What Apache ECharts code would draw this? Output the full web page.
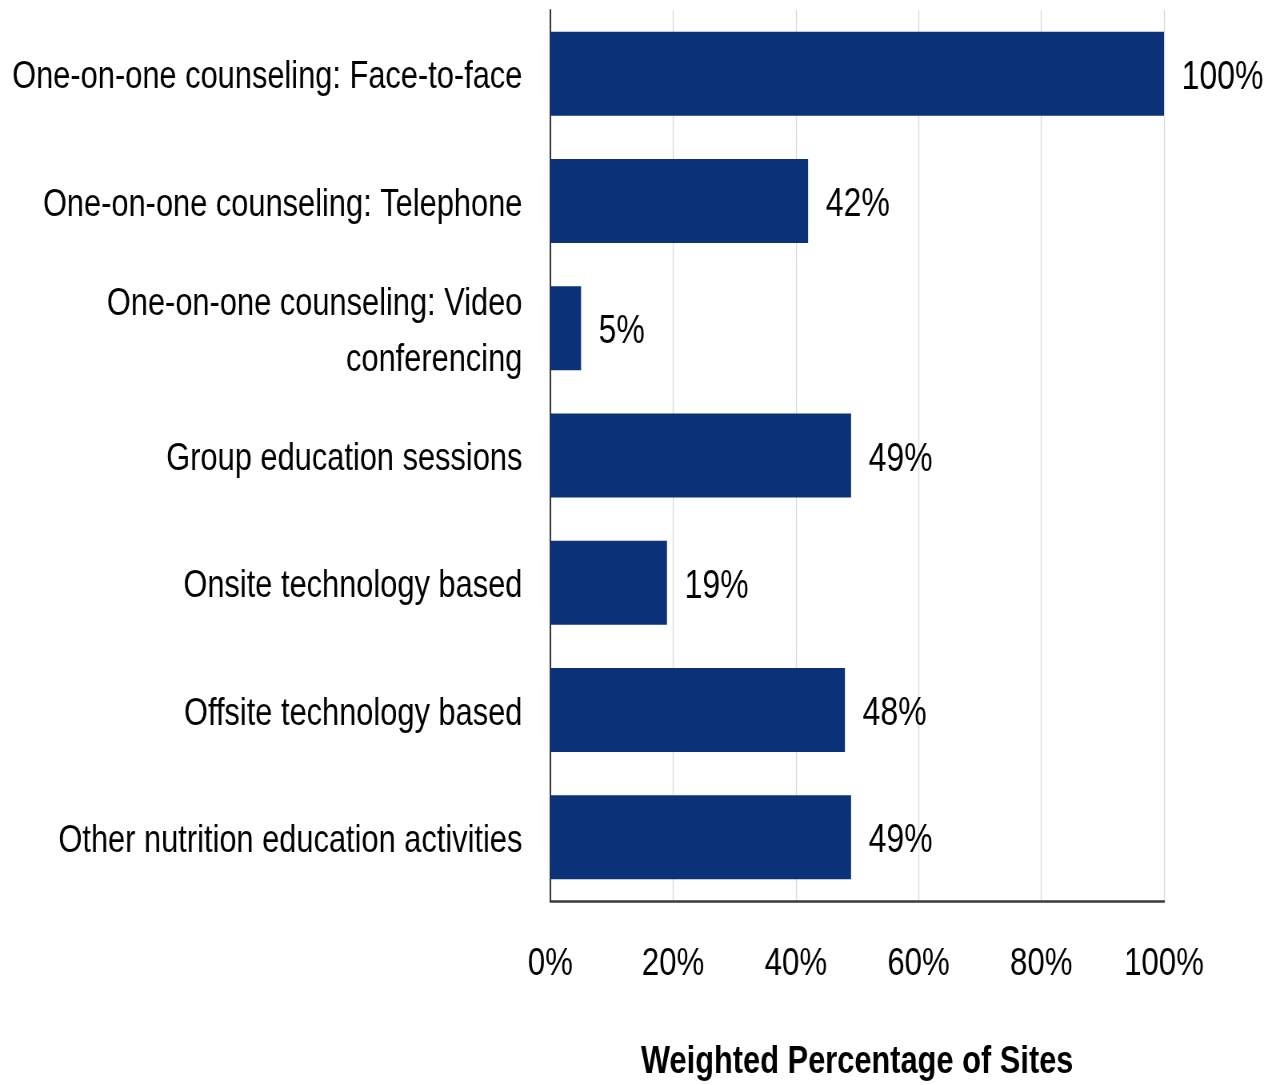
<!DOCTYPE html>
<html>
<head>
<meta charset="utf-8">
<script src="https://cdn.jsdelivr.net/npm/echarts@6/dist/echarts.min.js"></script>
<style>
  html, body { margin: 0; padding: 0; background: #fff; overflow: hidden; }
  #frame { width: 1277px; height: 1085px; overflow: hidden; }
  /* chart is laid out wide and squeezed horizontally to get the condensed lettering */
  #chart { width: 1596px; height: 1085px; transform: scaleX(0.8); transform-origin: 0 0; }
</style>
</head>
<body>
<div id="frame"><div id="chart"></div></div>
<script>
// Nutrition education delivery methods, share of sites (weighted)
const categories = [
  'One-on-one counseling: Face-to-face',
  'One-on-one counseling: Telephone',
  'One-on-one counseling: Video\nconferencing',
  'Group education sessions',
  'Onsite technology based',
  'Offsite technology based',
  'Other nutrition education activities'
];
const percentages = [100, 42, 5, 49, 19, 48, 49];
const axisTicks = [0, 20, 40, 60, 80, 100];
const axisTitle = 'Weighted Percentage of Sites';

const FONT = '"Liberation Sans", Arial, Helvetica, sans-serif';
const chart = echarts.init(document.getElementById('chart'), null, { renderer: 'canvas' });

// category names sit a little below the band centre: a thin spacer line goes on top
const categoryLabel = name =>
  '{gap| }\n' + name.split('\n').map(line => '{name|' + line + '}').join('\n');

chart.setOption({
  animation: false,
  backgroundColor: '#ffffff',
  grid: { left: 688, right: 141, top: 10, bottom: 184, containLabel: false, outerBoundsMode: 'none' },
  xAxis: {
    type: 'value',
    min: axisTicks[0],
    max: axisTicks[axisTicks.length - 1],
    interval: axisTicks[1] - axisTicks[0],
    name: axisTitle,
    nameLocation: 'middle',
    nameGap: 142,
    nameTextStyle: { fontFamily: FONT, fontSize: 38.5, fontWeight: 'bold', color: '#000' },
    axisLine: { show: true, lineStyle: { color: '#3a3a3a', width: 2.5 } },
    axisTick: { show: false },
    axisLabel: {
      margin: 44,
      fontFamily: FONT, fontSize: 39, color: '#000',
      formatter: v => v + '%'
    },
    splitLine: { show: true, lineStyle: { color: '#d9d9d9', width: 1.25 } }
  },
  yAxis: {
    type: 'category',
    inverse: true,
    data: categories,
    axisLine: { show: true, lineStyle: { color: '#222', width: 1.8 } },
    axisTick: { show: false },
    axisLabel: {
      margin: 35,
      align: 'right',
      formatter: categoryLabel,
      rich: {
        gap: { fontSize: 2, lineHeight: 8, height: 8 },
        name: { fontFamily: FONT, fontSize: 38.5, color: '#000', lineHeight: 56, align: 'right' }
      }
    }
  },
  series: [{
    type: 'bar',
    data: percentages,
    barCategoryGap: '34%',
    itemStyle: { color: '#0b3279' },
    label: {
      show: true,
      position: 'right',
      distance: 22,
      offset: [0, 4],
      fontFamily: FONT, fontSize: 40, color: '#000',
      formatter: p => p.value + '%'
    }
  }]
});
</script>
</body>
</html>
